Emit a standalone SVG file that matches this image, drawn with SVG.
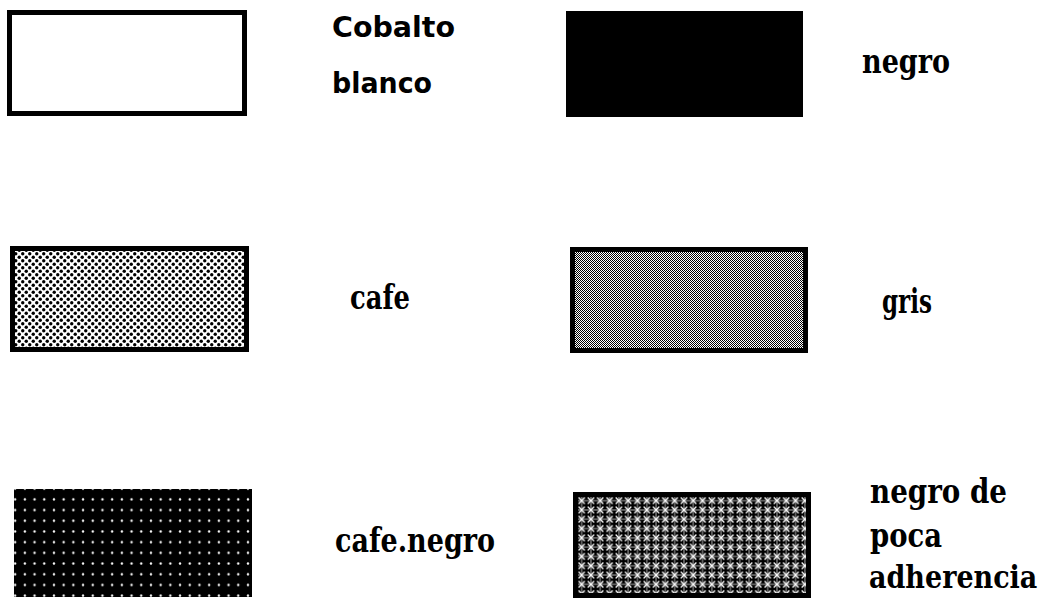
<svg xmlns="http://www.w3.org/2000/svg" width="1045" height="602" viewBox="0 0 1045 602">
<style>
.box{stroke:#000;stroke-width:5}
.lbl{font-family:"DejaVu Serif","Liberation Serif",serif;font-weight:bold;font-size:34px;fill:#000}
.sans{font-family:"DejaVu Sans","Liberation Sans",sans-serif;font-weight:bold;font-size:29px;fill:#000}
</style>
<defs>
<pattern id="dots" width="7" height="7" patternUnits="userSpaceOnUse">
<rect width="7" height="7" fill="#fff"/>
<circle cx="1.75" cy="1.75" r="1.7" fill="#000"/>
<circle cx="5.25" cy="5.25" r="1.7" fill="#000"/>
</pattern>
<pattern id="grey" width="2" height="2" patternUnits="userSpaceOnUse">
<rect width="2" height="2" fill="#fff"/>
<rect width="1" height="1" fill="#000"/>
<rect x="1" y="1" width="1" height="1" fill="#000"/>
</pattern>
<pattern id="wdots" width="9.7" height="10.7" patternUnits="userSpaceOnUse" x="20" y="494">
<rect width="9.7" height="10.7" fill="#000"/>
<circle cx="4.85" cy="5.35" r="1.2" fill="#fff"/>
</pattern>
<pattern id="mesh" width="9.3" height="9.3" patternUnits="userSpaceOnUse" x="577" y="496">
<rect width="9.3" height="9.3" fill="#000"/>
<path d="M1.5 1.5L7.8 7.8M7.8 1.5L1.5 7.8" stroke="#fff" stroke-width="1.3"/>
<path d="M0 4.65H9.3M4.65 0V9.3" stroke="#fff" stroke-width="0.7"/>
</pattern>
</defs>
<rect width="1045" height="602" fill="#fff"/>
<g id="cobalto-blanco">
<rect class="box" x="9.5" y="12.5" width="235" height="101" fill="#fff"/>
<text class="sans" x="332" y="37" textLength="123" lengthAdjust="spacingAndGlyphs">Cobalto</text>
<text class="sans" x="332" y="93" textLength="100" lengthAdjust="spacingAndGlyphs">blanco</text>
</g>
<g id="negro">
<rect x="566" y="11" width="237" height="106" fill="#000"/>
<text class="lbl" x="862" y="73" textLength="88" lengthAdjust="spacingAndGlyphs">negro</text>
</g>
<g id="cafe">
<rect class="box" x="12.5" y="248.5" width="234" height="101" fill="url(#dots)"/>
<text class="lbl" x="350" y="309" textLength="60" lengthAdjust="spacingAndGlyphs">cafe</text>
</g>
<g id="gris">
<rect class="box" x="572.5" y="249.5" width="233" height="101" fill="url(#grey)"/>
<text class="lbl" x="882" y="313" textLength="50" lengthAdjust="spacingAndGlyphs">gris</text>
</g>
<g id="cafe-negro">
<rect x="14" y="489" width="238" height="108" fill="url(#wdots)"/>
<text class="lbl" x="335" y="552" textLength="160" lengthAdjust="spacingAndGlyphs">cafe.negro</text>
</g>
<g id="negro-poca-adherencia">
<rect class="box" x="575.5" y="494.5" width="233" height="101" fill="url(#mesh)"/>
<text class="lbl" x="870" y="503" textLength="137" lengthAdjust="spacingAndGlyphs">negro de</text>
<text class="lbl" x="870" y="547" textLength="72" lengthAdjust="spacingAndGlyphs">poca</text>
<text class="lbl" transform="translate(869 588) scale(1 1.2)" x="0" y="0" style="font-size:27px">adherencia</text>
</g>
<g id="connectors"/>
</svg>
